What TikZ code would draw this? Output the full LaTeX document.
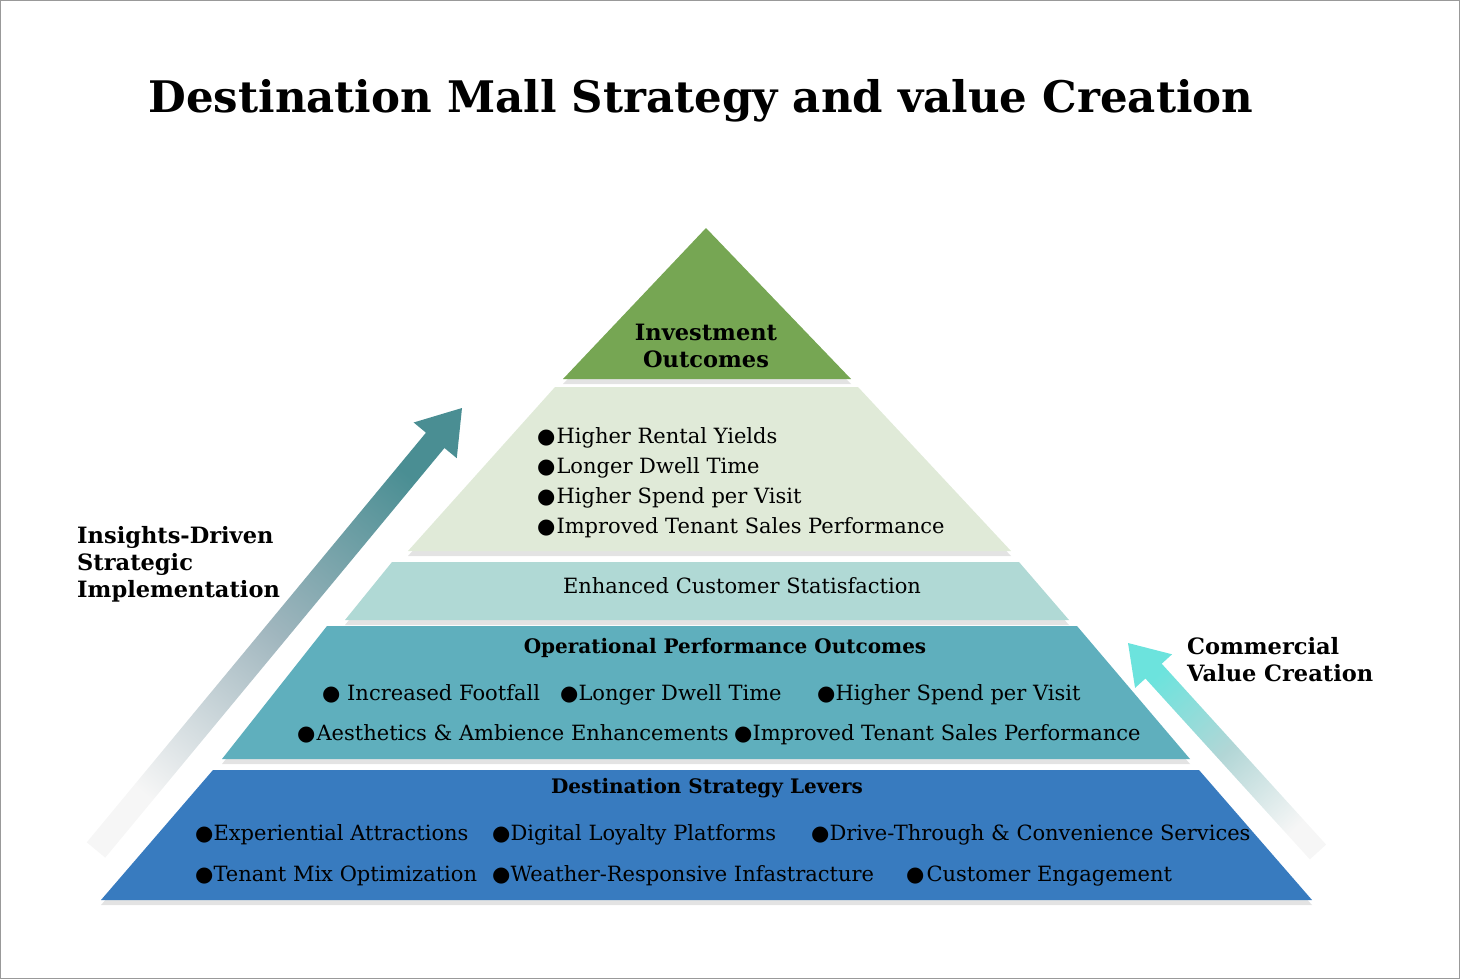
\documentclass[tikz,border=0pt]{standalone}
\usepackage{fontspec}
\setmainfont{DejaVu Serif}
\newfontfamily\symfont{DejaVu Sans}
\usepackage{tikz}
\usetikzlibrary{calc,shadows}
\definecolor{tierA}{RGB}{118,166,83}
\definecolor{tierB}{RGB}{224,234,216}
\definecolor{tierC}{RGB}{176,217,213}
\definecolor{tierD}{RGB}{95,175,189}
\definecolor{tierE}{RGB}{56,123,191}
\definecolor{arrowL}{RGB}{74,142,147}
\definecolor{arrowLmid}{RGB}{160,182,190}
\definecolor{arrowR}{RGB}{108,227,221}
\definecolor{arrowRmid}{RGB}{178,214,214}
\definecolor{fade}{RGB}{246,246,246}
\def\bigarrow[#1](#2)(#3)(#4:#5:#6){%
  \coordinate (hb) at ($(#3)!#6!(#2)$);
  \shade[#1] ($(#2)!#4!90:(#3)$) -- ($(hb)!#4!-90:(#2)$) -- ($(hb)!#5!-90:(#2)$) -- (#3)
    -- ($(hb)!#5!90:(#2)$) -- ($(hb)!#4!90:(#2)$) -- ($(#2)!#4!-90:(#3)$) -- cycle;}
\newcommand{\bul}{{\symfont ●}}
\tikzset{
  tier/.style={drop shadow={opacity=0.22, shadow xshift=0pt, shadow yshift=-5pt}},
  item/.style={anchor=base west, inner sep=0pt, font=\fontsize{21}{24}\selectfont},
  heading/.style={anchor=base, inner sep=0pt, font=\bfseries\fontsize{20}{24}\selectfont},
  sidelabel/.style={anchor=west, align=left, inner sep=0pt, font=\bfseries\fontsize{22.5}{27}\selectfont}
}
\begin{document}
\begin{tikzpicture}[x=1pt,y=-1pt]
	%%%%% START %%%%%
	\useasboundingbox (0,0) rectangle (1460,979);
	\draw[black!40] (0.5,0.5) rectangle (1459.5,978.5);
	
	\node[anchor=base, font=\bfseries\fontsize{43.5}{50}\selectfont] (title) at (701,113) {Destination Mall Strategy and value Creation};
	
	% side arrows
	\coordinate (ls) at (96,850);
	\coordinate (le) at (462,408);
	\bigarrow[bottom color=fade, top color=arrowL, middle color=arrowLmid, shading angle=-39.6](ls)(le)(12pt:28pt:42pt)
	\coordinate (rs) at (1318,852);
	\coordinate (re) at (1128,643);
	\bigarrow[bottom color=fade, top color=arrowR, middle color=arrowRmid, shading angle=42.3](rs)(re)(11pt:25pt:38pt)
	
	% pyramid tiers
	\fill[tierE, tier] (213,770) -- (1199,770) -- (1312,900) -- (101,900) -- cycle;
	\fill[tierD, tier] (327,626) -- (1077,626) -- (1190,759) -- (222,759) -- cycle;
	\fill[tierC, tier] (392,562) -- (1019,562) -- (1069,620) -- (345,620) -- cycle;
	\fill[tierB, tier] (555,387) -- (858,387) -- (1011,551) -- (408,551) -- cycle;
	\fill[tierA, tier] (706,228) -- (851,379) -- (563,379) -- cycle;
	
	\node[align=center, inner sep=0pt, font=\bfseries\fontsize{22.5}{27}\selectfont] (invest) at (706,346) {Investment\\Outcomes};
	
	\node[item] (yield) at (537,443) {\bul\hspace{1pt}Higher Rental Yields};
	\node[item] (dwellA) at (537,473) {\bul\hspace{1pt}Longer Dwell Time};
	\node[item] (spendA) at (537,503) {\bul\hspace{1pt}Higher Spend per Visit};
	\node[item] (salesA) at (537,533) {\bul\hspace{1pt}Improved Tenant Sales Performance};
	
	\node[item, anchor=base] (satisf) at (742,593) {Enhanced Customer Statisfaction};
	
	\node[heading] (ops) at (725,653) {Operational Performance Outcomes};
	\node[item] (footfall) at (322,700) {\bul\ Increased Footfall};
	\node[item] (dwellB) at (560,700) {\bul{}Longer Dwell Time};
	\node[item] (spendB) at (817,700) {\bul{}Higher Spend per Visit};
	\node[item] (ambience) at (297,740) {\bul\hspace{1pt}Aesthetics \& Ambience Enhancements};
	\node[item] (salesB) at (734,740) {\bul{}Improved Tenant Sales Performance};
	
	\node[heading] (levers) at (707,793) {Destination Strategy Levers};
	\node[item] (attract) at (195,840) {\bul{}Experiential Attractions};
	\node[item] (loyalty) at (492,840) {\bul{}Digital Loyalty Platforms};
	\node[item] (drive) at (811,840) {\bul{}Drive-Through \& Convenience Services};
	\node[item] (mix) at (195,881) {\bul{}Tenant Mix Optimization};
	\node[item] (weather) at (492,881) {\bul{}Weather-Responsive Infastracture};
	\node[item] (engage) at (906,881) {\bul\hspace{2pt}Customer Engagement};
	
	\node[sidelabel] (insights) at (77,564) {Insights-Driven\\Strategic\\Implementation};
	\node[sidelabel] (commercial) at (1187,660) {Commercial\\Value Creation};
	%%%%% END %%%%%
\end{tikzpicture}
\end{document}
